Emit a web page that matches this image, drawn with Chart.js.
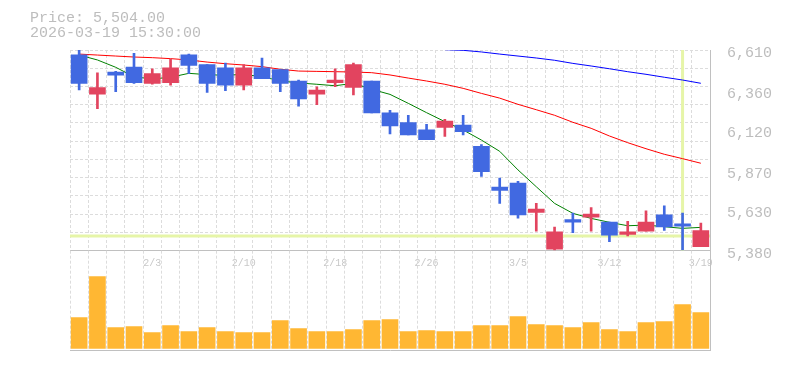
<!DOCTYPE html>
<html>
<head>
<meta charset="utf-8">
<script src="https://cdn.jsdelivr.net/npm/chart.js@4.4.1/dist/chart.umd.min.js"></script>
<style>
  body { margin: 0; background: #fff; }
  #wrap { position: relative; width: 785px; height: 370px; }
  canvas { position: absolute; left: 0; top: 0; }
  #info { position: absolute; left: 30px; top: 11px; font: 15px/15px "Liberation Mono", monospace; color: #bdbdbd; white-space: pre; }
</style>
</head>
<body>
<div id="wrap">
  <canvas id="price" width="785" height="280"></canvas>
  <canvas id="volume" width="785" height="370"></canvas>
  <div id="info">Price: 5,504.00
2026-03-19 15:30:00</div>
</div>
<script>
const dates = ['1/28','1/29','1/30','2/2','2/3','2/4','2/5','2/6','2/9','2/10','2/12','2/13',
  '2/16','2/17','2/18','2/19','2/20','2/24','2/25','2/26','2/27','3/2','3/3','3/4','3/5','3/6',
  '3/9','3/10','3/11','3/12','3/13','3/16','3/17','3/18','3/19'];

const opens  = [6580,6340,6475,6505,6405,6410,6580,6520,6500,6395,6500,6490,6420,6340,6410,6380,6420,6225,
  6165,6120,6135,6150,6020,5770,5795,5615,5390,5570,5585,5555,5480,5500,5600,5545,5405];
const highs  = [6610,6470,6480,6590,6495,6555,6585,6520,6530,6520,6560,6490,6425,6385,6495,6530,6420,6240,
  6210,6155,6185,6210,6030,5825,5805,5670,5525,5610,5645,5555,5560,5625,5655,5610,5550];
const lows   = [6365,6250,6355,6405,6400,6395,6465,6350,6360,6365,6435,6355,6265,6275,6385,6335,6225,6095,
  6090,6060,6080,6090,5835,5670,5580,5500,5385,5490,5500,5435,5470,5500,5505,5385,5405];
const closes = [6405,6380,6455,6410,6465,6500,6515,6405,6395,6500,6435,6405,6310,6365,6425,6520,6225,6145,
  6090,6060,6175,6110,5865,5750,5600,5635,5495,5555,5605,5475,5495,5555,5525,5530,5504];

// moving averages
const maShort = [6579,6549,6504,6446,6432,6443,6467,6459,6455,6461,6446,6421,6408,6400,6391,6406,6369,6338,
  6283,6226,6171,6120,6058,5989,5875,5772,5670,5609,5578,5554,5533,5537,5527,5517,5523];
const maMid = [6585,6579,6573,6567,6563,6557,6549,6536,6526,6518,6508,6492,6481,6479,6477,6475,6471,6457,
  6438,6420,6400,6375,6344,6315,6277,6244,6210,6167,6130,6083,6042,6005,5971,5944,5916];
const maLong = [null,null,null,null,null,null,null,null,null,null,null,null,null,null,null,null,null,null,
  null,null,6612,6608,6598,6585,6573,6561,6547,6528,6512,6495,6477,6461,6443,6426,6406];

// volume, thousand shares
const volumes = [306,716,206,216,156,226,166,206,166,156,156,276,196,166,166,186,276,286,
  166,176,166,166,226,226,316,236,226,206,256,186,166,256,266,436,356];

const priceTicks = [5380, 5630, 5870, 6120, 6360, 6610];
const priceMin = 5380, priceMax = 6610;
const crossIndex = 33;
const crossPrice = 5470;

const gridColor = '#dcdcdc';
const axisColor = '#c0c0c0';
const candleColors = closes.map((c, i) => c >= opens[i] ? '#e2445f' : '#4169e1');

const crosshair = {
  id: 'crosshair',
  beforeDatasetsDraw(chart) {
    const { ctx, chartArea: a, scales } = chart;
    const cx = scales.x.getPixelForValue(crossIndex);
    const cy = scales.y.getPixelForValue(crossPrice);
    ctx.save();
    ctx.strokeStyle = '#e6f5a8';
    ctx.lineWidth = 3;
    ctx.beginPath();
    ctx.moveTo(a.left, cy); ctx.lineTo(a.right, cy);
    ctx.moveTo(cx, a.top); ctx.lineTo(cx, a.bottom);
    ctx.stroke();
    ctx.restore();
  }
};

function maLine(data, color) {
  return { type: 'line', data: data, borderColor: color, borderWidth: 1, pointRadius: 0, tension: 0, order: 3 };
}

new Chart(document.getElementById('price'), {
  type: 'bar',
  data: {
    labels: dates,
    datasets: [
      maLine(maShort, '#008000'),
      maLine(maMid, '#ff0000'),
      maLine(maLong, '#0000ff'),
      { data: lows.map((l, i) => [l, highs[i]]), backgroundColor: candleColors, barThickness: 2, grouped: false, order: 2 },
      { data: opens.map((o, i) => [o, closes[i]]), backgroundColor: candleColors, barThickness: 16, grouped: false, order: 1 }
    ]
  },
  options: {
    responsive: false,
    animation: false,
    layout: { padding: { left: 70, top: 50 } },
    plugins: { legend: { display: false }, tooltip: { enabled: false } },
    scales: {
      x: {
        grid: { color: gridColor, drawTicks: false, offset: true },
        border: { color: axisColor, dash: [3, 2] },
        ticks: {
          autoSkip: false, maxRotation: 0, padding: 7, color: '#c8c8c8',
          font: { family: 'Liberation Mono', size: 10 },
          callback: (v, i) => (dates.length - 1 - i) % 5 === 0 ? dates[i] : ''
        },
        afterFit: s => { s.height = 29.3; }
      },
      y: {
        position: 'right', min: priceMin, max: priceMax,
        grid: { display: false },
        border: { color: axisColor },
        afterBuildTicks: s => { s.ticks = priceTicks.map(v => ({ value: v })); },
        ticks: {
          padding: 9, labelOffset: 3, color: '#bdbdbd',
          font: { family: 'Liberation Mono', size: 15 },
          callback: v => v.toLocaleString('en-US')
        },
        afterFit: s => { s.width = 75; }
      },
      yg: {
        position: 'right', min: priceMin, max: priceMax,
        grid: { color: ctx => ctx.index === 0 ? 'rgba(0,0,0,0)' : gridColor, drawTicks: false },
        border: { display: false, dash: [3, 2] },
        ticks: { display: false },
        afterBuildTicks: s => {
          const step = (priceMax - priceMin) / 11;
          s.ticks = Array.from({ length: 12 }, (_, i) => ({ value: priceMin + i * step }));
        },
        afterFit: s => { s.width = 0; }
      }
    }
  },
  plugins: [crosshair]
});

new Chart(document.getElementById('volume'), {
  type: 'bar',
  data: {
    labels: dates,
    datasets: [{ data: volumes, backgroundColor: '#ffb733', barThickness: 16 }]
  },
  options: {
    responsive: false,
    animation: false,
    layout: { padding: { left: 70, top: 250.7 } },
    plugins: { legend: { display: false }, tooltip: { enabled: false } },
    scales: {
      x: {
        grid: { color: gridColor, drawTicks: false, offset: true },
        border: { color: axisColor, dash: [3, 2] },
        ticks: { display: false },
        afterFit: s => { s.height = 20; }
      },
      y: {
        position: 'right', min: -17, max: 976,
        grid: { display: false },
        border: { color: axisColor },
        ticks: { display: false },
        afterFit: s => { s.width = 75; }
      }
    }
  }
});
</script>
</body>
</html>
